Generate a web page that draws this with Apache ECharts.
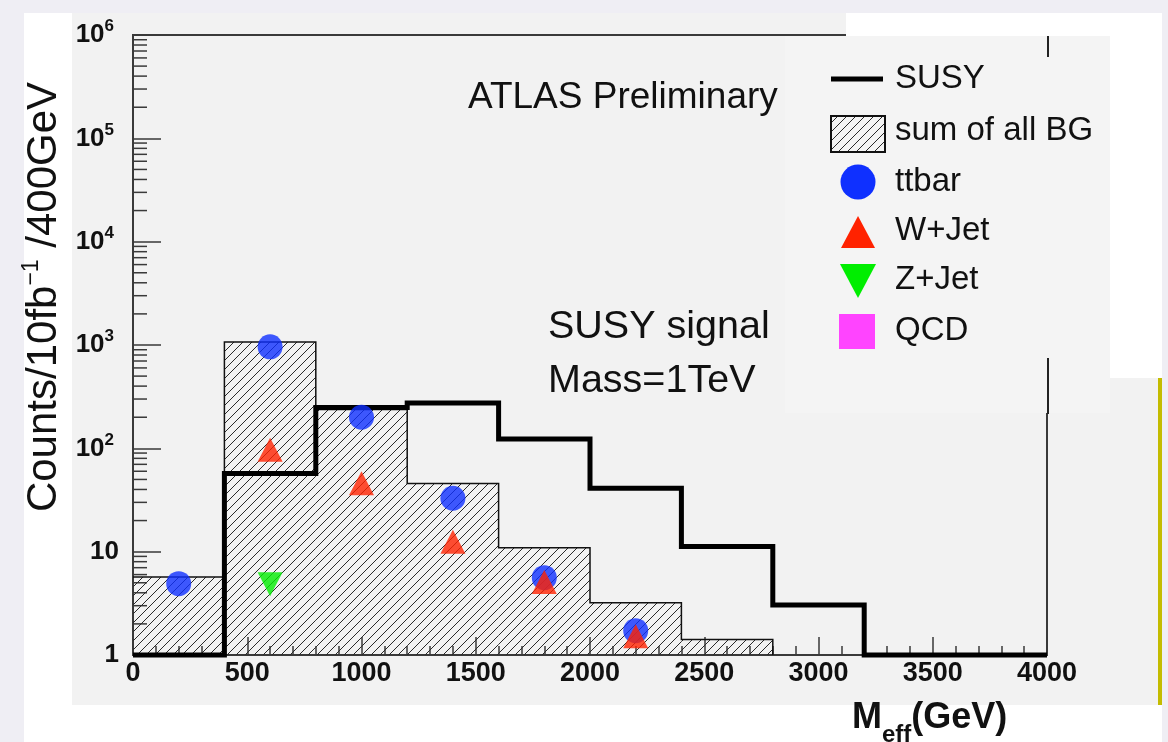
<!DOCTYPE html>
<html>
<head>
<meta charset="utf-8">
<script src="https://cdn.jsdelivr.net/npm/echarts@6/dist/echarts.min.js"></script>
<style>
  html, body { margin: 0; padding: 0; width: 1168px; height: 742px; overflow: hidden; background: #efeef4; }
  #sheet { position: absolute; left: 24px; top: 13px; width: 1138px; height: 729px; background: #ffffff; }
  #pad { position: absolute; left: 72px; top: 13px; width: 1086px; height: 692px; background: #f2f2f2; }
  #edge { position: absolute; left: 1158px; top: 378px; width: 4px; height: 327px; background: #c4bc00; }
  #chart { position: absolute; left: 0; top: 0; width: 1168px; height: 742px; }
</style>
</head>
<body>
<div id="sheet"></div>
<div id="pad"></div>
<div id="edge"></div>
<div id="chart"></div>
<script>
// Effective-mass histogram: 400 GeV bins from 0 to 4000 GeV
const binEdges = [0, 400, 800, 1200, 1600, 2000, 2400, 2800, 3200, 3600, 4000];
const susyCounts = [0, 57, 248, 275, 123, 41, 11.2, 3.05, 0, 0];
const bgSumCounts = [5.7, 1070, 238, 45.8, 10.9, 3.2, 1.41, 0, 0, 0];

// Individual backgrounds, drawn at bin centres
const ttbarMeff = [200, 600, 1000, 1400, 1800, 2200];
const ttbarCounts = [4.9, 960, 200, 32.9, 5.6, 1.72];
const wJetMeff = [600, 1000, 1400, 1800, 2200];
const wJetCounts = [97, 46, 12.5, 5.1, 1.52];
const zJetMeff = [600];
const zJetCounts = [4.85];
const qcdMeff = [];
const qcdCounts = [];

// Axis ticks
const xTickValues = [0, 500, 1000, 1500, 2000, 2500, 3000, 3500, 4000];
const xTickLabels = ['0', '500', '1000', '1500', '2000', '2500', '3000', '3500', '4000'];
const yTickValues = [1, 10, 100, 1000, 10000, 100000, 1000000];
const yTickLabels = ['1', '10', '10^2', '10^3', '10^4', '10^5', '10^6'];

const FONT = '"Liberation Sans", Arial, Helvetica, sans-serif';
const INK = '#111111';
const AXIS = '#3a3a3a';
const yMin = 1, yMax = 1e6;

// log-axis minor ticks at 2..9 x 10^k
const yMinorTicks = [];
for (let k = 0; k < 6; k++) {
  for (let m = 2; m <= 9; m++) yMinorTicks.push([0, m * Math.pow(10, k)]);
}

// diagonal hatch used for the summed background
function makeHatch() {
  const s = 9;
  const c = document.createElement('canvas');
  c.width = s; c.height = s;
  const g = c.getContext('2d');
  g.strokeStyle = '#2a2a2a';
  g.lineWidth = 1;
  for (const k of [-s, 0, s]) {
    g.beginPath();
    g.moveTo(k, s);
    g.lineTo(k + s, 0);
    g.stroke();
  }
  return c;
}
const hatch = { image: makeHatch(), repeat: 'repeat' };

// histogram helpers: bins as rectangles, outline as a step line
const bgBins = [];
bgSumCounts.forEach((v, i) => { if (v > 0) bgBins.push([binEdges[i], binEdges[i + 1], v]); });

function stepOutline(counts) {
  const pts = counts.map((v, i) => [binEdges[i], Math.max(v, yMin)]);
  pts.push([binEdges[binEdges.length - 1], Math.max(counts[counts.length - 1], yMin)]);
  return pts;
}
const bgOutline = (() => {
  const last = bgSumCounts.findLastIndex(v => v > 0);
  const pts = bgSumCounts.slice(0, last + 1).map((v, i) => [binEdges[i], v]);
  pts.push([binEdges[last + 1], yMin]);
  return pts;
})();
const susyOutline = [[binEdges[0], yMin]].concat(stepOutline(susyCounts));

const pairs = (xs, ys) => xs.map((x, i) => [x, ys[i]]);

const chart = echarts.init(document.getElementById('chart'), null, { renderer: 'canvas' });

const legendX = 831;
const legendText = (y, t) => ({
  type: 'text', x: 895, y: y, z: 103,
  style: { text: t, fontSize: 33, fontFamily: FONT, fill: INK, verticalAlign: 'middle', align: 'left' }
});

chart.setOption({
  animation: false,
  backgroundColor: 'transparent',
  grid: { left: 133, right: 121, top: 35, bottom: 87, show: true, borderColor: AXIS, borderWidth: 2, backgroundColor: 'transparent' },
  xAxis: {
    type: 'value', min: 0, max: 4000, interval: 500,
    axisLine: { show: true, lineStyle: { color: AXIS, width: 2 } },
    axisTick: { show: true, inside: true, length: 18, lineStyle: { color: AXIS, width: 1.5 } },
    minorTick: { show: true, splitNumber: 5, length: 9, lineStyle: { color: AXIS, width: 1.5 } },
    splitLine: { show: false },
    axisLabel: {
      margin: 5, fontSize: 27, fontWeight: 'bold', fontFamily: FONT, color: INK,
      showMinLabel: true, showMaxLabel: true,
      formatter: v => { const i = xTickValues.indexOf(v); return i < 0 ? '' : xTickLabels[i]; }
    }
  },
  yAxis: {
    type: 'log', logBase: 10, min: yMin, max: yMax, splitNumber: 6,
    axisLine: { show: true, lineStyle: { color: AXIS, width: 2 } },
    axisTick: { show: true, inside: true, length: 28, lineStyle: { color: AXIS, width: 1.5 } },
    minorTick: { show: false },
    splitLine: { show: false },
    axisLabel: {
      margin: 14, showMinLabel: true, showMaxLabel: true,
      formatter: v => {
        const i = Math.round(Math.log10(v));
        const lab = yTickLabels[i];
        if (lab === undefined) return '';
        const parts = lab.split('^');
        return parts.length > 1 ? '{b|' + parts[0] + '}{s|' + parts[1] + '}' : '{b|' + parts[0] + '}';
      },
      rich: {
        b: { fontSize: 26, fontWeight: 'bold', fontFamily: FONT, color: INK, lineHeight: 34 },
        s: { fontSize: 17, fontWeight: 'bold', fontFamily: FONT, color: INK, verticalAlign: 'top', padding: [0, 5, 0, 0] }
      }
    }
  },
  series: [
    {
      name: 'yMinor', type: 'custom', silent: true, z: 1,
      data: yMinorTicks, encode: { x: 0, y: 1 },
      renderItem: (params, api) => {
        const p = api.coord([api.value(0), api.value(1)]);
        return { type: 'line', shape: { x1: p[0], y1: p[1], x2: p[0] + 14, y2: p[1] }, style: { stroke: AXIS, lineWidth: 1.5 } };
      }
    },
    {
      name: 'sum of all BG', type: 'custom', z: 2, silent: true,
      data: bgBins, encode: { x: [0, 1], y: 2 },
      renderItem: (params, api) => {
        const p0 = api.coord([api.value(0), api.value(2)]);
        const p1 = api.coord([api.value(1), yMin]);
        return { type: 'rect', shape: { x: p0[0], y: p0[1], width: p1[0] - p0[0], height: p1[1] - p0[1] }, style: { fill: hatch } };
      }
    },
    {
      name: 'sum of all BG outline', type: 'line', step: 'end', data: bgOutline, z: 3,
      symbol: 'none', clip: false, silent: true,
      lineStyle: { color: '#111', width: 1.5, join: 'miter' }
    },
    {
      name: 'SUSY', type: 'line', step: 'end', data: susyOutline, z: 4,
      symbol: 'none', clip: false, silent: true,
      lineStyle: { color: '#000', width: 5, join: 'miter', cap: 'butt' }
    },
    {
      name: 'ttbar', type: 'scatter', data: pairs(ttbarMeff, ttbarCounts), z: 5,
      symbol: 'circle', symbolSize: 25, itemStyle: { color: '#0f30ff' }
    },
    {
      name: 'W+Jet', type: 'scatter', data: pairs(wJetMeff, wJetCounts), z: 6,
      symbol: 'triangle', symbolSize: [25, 24], itemStyle: { color: '#ff2200' }
    },
    {
      name: 'Z+Jet', type: 'scatter', data: pairs(zJetMeff, zJetCounts), z: 6,
      symbol: 'triangle', symbolRotate: 180, symbolSize: [25, 24], itemStyle: { color: '#00ee00' }
    },
    {
      name: 'QCD', type: 'scatter', data: pairs(qcdMeff, qcdCounts), z: 6,
      symbol: 'rect', symbolSize: 24, itemStyle: { color: '#ff44ff' }
    }
  ],
  graphic: [
    // axis titles
    {
      type: 'text', x: 44, y: 297, rotation: Math.PI / 2, z: 50,
      style: {
        text: '{n|Counts/10fb}{s|−1}{n| /400GeV}',
        align: 'center', verticalAlign: 'middle',
        rich: {
          n: { fontSize: 42, fontFamily: FONT, fill: INK, lineHeight: 48 },
          s: { fontSize: 23, fontFamily: FONT, fill: INK, verticalAlign: 'top' }
        }
      }
    },
    {
      type: 'text', x: 852, y: 718, z: 50,
      style: {
        text: '{m|M}{e|eff}{m|(GeV)}',
        align: 'left', verticalAlign: 'middle',
        rich: {
          m: { fontSize: 36, fontWeight: 'bold', fontFamily: FONT, fill: INK, lineHeight: 40 },
          e: { fontSize: 24, fontWeight: 'bold', fontFamily: FONT, fill: INK, lineHeight: 24, padding: [34, 0, 0, 0] }
        }
      }
    },
    // annotations
    { type: 'text', x: 468, y: 98, z: 50, style: { text: 'ATLAS Preliminary', fontSize: 37, fontFamily: FONT, fill: INK, verticalAlign: 'middle' } },
    { type: 'text', x: 548, y: 327, z: 50, style: { text: 'SUSY signal', fontSize: 39.5, fontFamily: FONT, fill: INK, verticalAlign: 'middle' } },
    { type: 'text', x: 548, y: 381, z: 50, style: { text: 'Mass=1TeV', fontSize: 39.5, fontFamily: FONT, fill: INK, verticalAlign: 'middle' } },
    // legend panel
    { type: 'rect', z: 100, shape: { x: 846, y: 13, width: 316, height: 365 }, style: { fill: '#ffffff' } },
    { type: 'rect', z: 101, shape: { x: 785, y: 36, width: 325, height: 377 }, style: { fill: '#f4f4f4' } },
    { type: 'line', z: 102, shape: { x1: 1048, y1: 36, x2: 1048, y2: 57 }, style: { stroke: '#222', lineWidth: 2 } },
    { type: 'line', z: 102, shape: { x1: 1048, y1: 358, x2: 1048, y2: 414 }, style: { stroke: '#222', lineWidth: 2 } },
    { type: 'line', z: 103, shape: { x1: legendX, y1: 79, x2: legendX + 52, y2: 79 }, style: { stroke: '#000', lineWidth: 5 } },
    { type: 'rect', z: 103, shape: { x: legendX, y: 116, width: 54, height: 36 }, style: { fill: hatch, stroke: '#111', lineWidth: 2 } },
    { type: 'circle', z: 103, shape: { cx: 858, cy: 182, r: 17.5 }, style: { fill: '#0f30ff' } },
    { type: 'polygon', z: 103, shape: { points: [[858, 216], [875, 248], [841, 248]] }, style: { fill: '#ff2200' } },
    { type: 'polygon', z: 103, shape: { points: [[840, 264], [876, 264], [858, 298]] }, style: { fill: '#00ee00' } },
    { type: 'rect', z: 103, shape: { x: 839, y: 314, width: 36, height: 35 }, style: { fill: '#ff44ff' } },
    legendText(79, 'SUSY'),
    legendText(131, 'sum of all BG'),
    legendText(182, 'ttbar'),
    legendText(231, 'W+Jet'),
    legendText(280, 'Z+Jet'),
    legendText(331, 'QCD')
  ]
});
</script>
</body>
</html>
